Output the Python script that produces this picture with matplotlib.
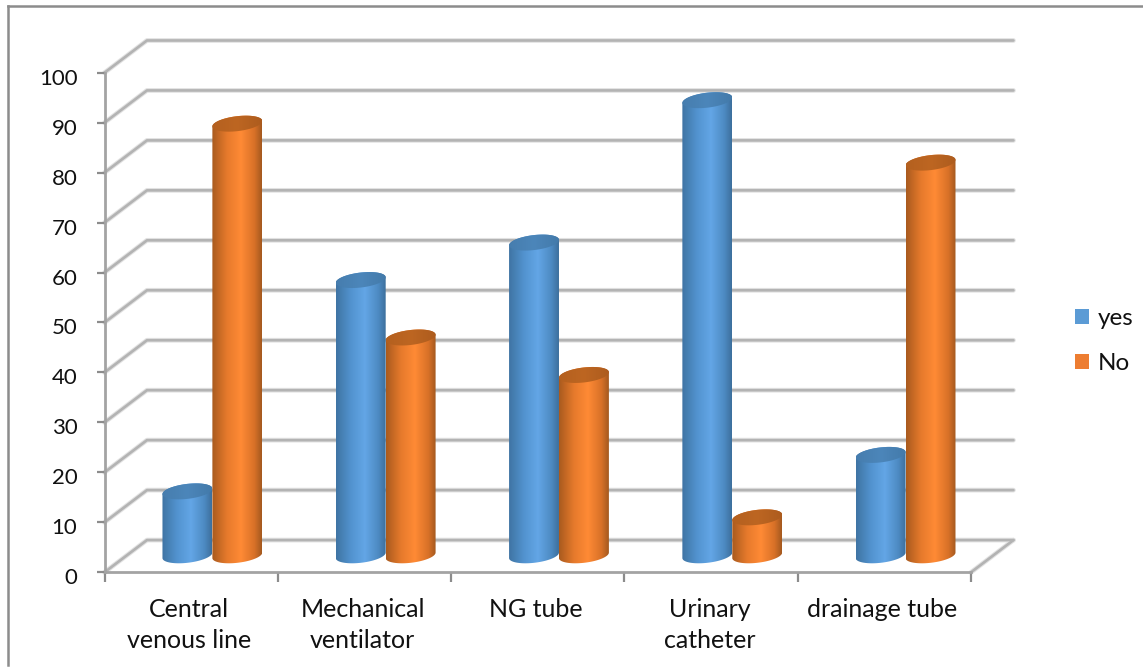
import numpy as np
import matplotlib
matplotlib.use("Agg")
import matplotlib.pyplot as plt
from matplotlib.colors import LinearSegmentedColormap
from matplotlib.lines import Line2D
from matplotlib.patches import Patch, Polygon
from matplotlib.transforms import ScaledTranslation

categories = ["Central\nvenous line", "Mechanical\nventilator", "NG tube", "Urinary\ncatheter", "drainage tube"]
yes_values = [12.8, 55.1, 62.6, 91.1, 20.1]
no_values = [86.4, 43.6, 36.1, 7.6, 78.6]
y_ticks = list(range(0, 101, 10))

plt.rcParams["font.family"] = ["Lato", "DejaVu Sans"]

W, H = 1143, 670
GRID = "#b3b3b3"
AXIS = "#a3a3a3"

# oblique depth of the floor, in data units
DEPTH_X = 0.2450
DEPTH_Y = 6.45
BAR_W = 0.288
BAR_Y0 = 3.4
ELL_B = 1.5
ELL_TILT = 0.55


def proj(x, y, d):
    return x + d * DEPTH_X, y + d * DEPTH_Y


def grid_line(ax, xs, ys):
    ax.plot(xs, ys, color="#e2e2e2", lw=3.4, clip_on=False, zorder=1, solid_capstyle="round")
    ax.plot(xs, ys, color=GRID, lw=1.9, clip_on=False, zorder=1.1, solid_capstyle="round")


def ellipse_pts(cx, cy, t):
    return cx + BAR_W / 2 * np.cos(t), cy + ELL_B * np.sin(t) + ELL_TILT * np.cos(t)


def cylinder(ax, x, value, cmap, top_cmap, z):
    cx = x + 0.5 * DEPTH_X
    y0 = BAR_Y0
    y1 = y0 + value
    t_low = np.linspace(np.pi, 2 * np.pi, 60)
    t_up = np.linspace(0, np.pi, 60)
    bx, by = ellipse_pts(cx, y0, t_low)
    tx, ty = ellipse_pts(cx, y1, t_up)
    body = Polygon(np.column_stack([np.r_[bx, tx], np.r_[by, ty]]), closed=True,
                   transform=ax.transData, fc="none", ec="none")
    ax.add_patch(body)
    grad = np.linspace(0, 1, 256).reshape(1, -1)
    im = ax.imshow(grad, cmap=cmap, aspect="auto", zorder=z,
                   extent=[cx - BAR_W / 2, cx + BAR_W / 2, y0 - 3, y1 + 3])
    im.set_clip_path(body)
    t_all = np.linspace(0, 2 * np.pi, 120)
    ex, ey = ellipse_pts(cx, y1, t_all)
    lid = Polygon(np.column_stack([ex, ey]), closed=True, transform=ax.transData,
                  fc="none", ec="none")
    ax.add_patch(lid)
    im2 = ax.imshow(grad, cmap=top_cmap, aspect="auto", zorder=z + 0.1,
                    extent=[cx - BAR_W / 2, cx + BAR_W / 2, y1 - 3, y1 + 3])
    im2.set_clip_path(lid)


blue_body = LinearSegmentedColormap.from_list("bb", [(0, "#3f74a3"), (0.3, "#5293cf"), (0.58, "#63a6e6"), (0.85, "#4d8ac2"), (1, "#3d6f9c")])
blue_top = LinearSegmentedColormap.from_list("bt", ["#467dae", "#4c86ba", "#437aaa"])
orange_body = LinearSegmentedColormap.from_list("ob", [(0, "#a95a1e"), (0.3, "#e67a2c"), (0.58, "#ff8a35"), (0.85, "#d87128"), (1, "#a4591f")])
orange_top = LinearSegmentedColormap.from_list("ot", ["#b4601f", "#bd6622", "#ad5c1e"])

fig = plt.figure(figsize=(W / 100, H / 100), dpi=100)
ax = fig.add_axes([104.5 / W, (H - 572.3) / H, 866.5 / W, 499.6 / H])
ax.set_facecolor("none")

# outer frame of the chart area, open on the right
for xs, ys in [([8, 8], [6, 665]), ([8, 1143], [6, 6])]:
    fig.add_artist(Line2D(np.array(xs) / W, 1 - np.array(ys) / H, color="#8c8c8c", lw=1.8))

# back wall and side wall
n = len(categories)
for v in y_ticks:
    x0, y0 = proj(0, v, 0)
    x1, y1 = proj(0, v, 1)
    x2, y2 = proj(n, v, 1)
    grid_line(ax, [x0, x1, x2], [y0, y1, y2])
x1, y1 = proj(n, 0, 0)
x2, y2 = proj(n, 0, 1)
grid_line(ax, [x1, x2], [y1, y2])

for i in range(n):
    cylinder(ax, i + 0.5 - BAR_W / 2, yes_values[i], blue_body, blue_top, 3 + i)
    cylinder(ax, i + 0.5 + BAR_W / 2, no_values[i], orange_body, orange_top, 3.5 + i)

ax.set_xlim(0, n)
ax.set_ylim(0, 100)
ax.set_yticks(y_ticks)
ax.set_xticks(range(n + 1))
ax.set_xticklabels([])
ax.set_xticks([i + 0.49 for i in range(n)], minor=True)
ax.set_xticklabels(categories, minor=True, fontsize=18, linespacing=1.44, color="#111111")
ax.tick_params(axis="x", which="minor", length=0, pad=18.5)
ax.tick_params(axis="x", which="major", length=7, width=1.6, color="#8c8c8c")
ax.tick_params(axis="y", length=6, width=1.6, color="#8c8c8c", labelsize=16, pad=13.5, labelcolor="#111111")
shift = ScaledTranslation(0, -4 / 100, fig.dpi_scale_trans)
for lab in ax.get_yticklabels():
    lab.set_transform(lab.get_transform() + shift)
for s in ["top", "right"]:
    ax.spines[s].set_visible(False)
for s in ["left", "bottom"]:
    ax.spines[s].set_color(AXIS)
    ax.spines[s].set_linewidth(2)

handles = [Patch(fc="#5b9bd5", ec="none", label="yes"), Patch(fc="#ed7d31", ec="none", label="No")]
fig.legend(handles=handles, loc="center left", bbox_to_anchor=(1075 / W, 1 - 341 / H), frameon=False,
           fontsize=17.5, handlelength=0.58, handleheight=0.6, handletextpad=0.37, labelspacing=1.0,
           borderpad=0, borderaxespad=0, labelcolor="#111111")

fig.savefig("out.png", dpi=100, facecolor="white")
